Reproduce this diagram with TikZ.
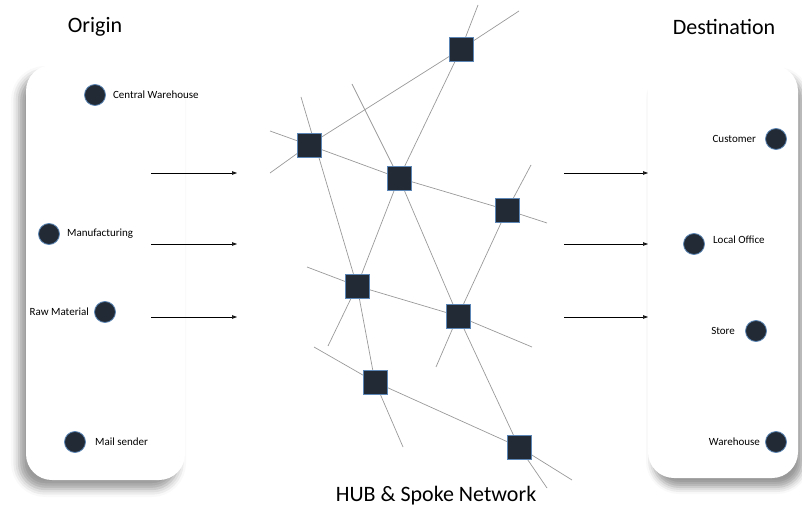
\documentclass[tikz,border=0pt]{standalone}
\usepackage{fontspec}
\setmainfont{Carlito}
\usetikzlibrary{positioning,arrows.meta,shadows.blur,backgrounds}
\definecolor{hubfill}{HTML}{222A35}
\definecolor{hubedge}{HTML}{5B86B5}

\begin{document}
\begin{tikzpicture}[x=1pt, y=-1pt, hub/.style={draw=hubedge, fill=hubfill,
				line width=0.8pt, minimum size=24pt, inner sep=0pt},
				site/.style={circle, draw=hubedge, fill=hubfill, line width=0.8pt,
				minimum size=21pt, inner sep=0pt},
				lbl/.style={font=\fontsize{11}{13}\selectfont, inner sep=1pt},
				spoke/.style={draw=gray!80, line width=0.7pt},
				flow/.style={-{Triangle[length=5pt,width=3.5pt]}, line width=0.6pt},
				panel/.style={fill=white, rounded corners=26pt},
				ttl/.style={font=\fontsize{22}{26}\selectfont}]

			\useasboundingbox (0,0) rectangle (802,510);

			% panels
			\path[panel, blur shadow={shadow xshift=-7pt, shadow yshift=-9pt,
				shadow blur radius=8pt, shadow opacity=40}] (26,65) rectangle (185,480);
			\path[panel, blur shadow={shadow xshift=5pt, shadow yshift=-9pt,
				shadow blur radius=7pt, shadow opacity=40}] (648,65) rectangle (798,478);

			\node[ttl] (orig) at (95,27) {Origin};
			\node[ttl] (dest) at (724,27) {Destination};
			\node[ttl] (net) at (436,496) {HUB \& Spoke Network};

			% origin side
			\node[site] (cw) at (95,95) {}; \node[lbl,right=6pt of cw] (cwl)
			{Central Warehouse}; \node[site] (mf) at (49,234) {};
			\node[lbl,right=6pt of mf] (mfl) {Manufacturing}; \node[site] (rm)
			at (105,312) {}; \node[lbl,left=4pt of rm] (rml) {Raw Material};
			\node[site] (ms) at (75,442) {}; \node[lbl,right=8pt of ms] (msl)
			{Mail sender};

			% destination side
			\node[site] (cu) at (776,139) {}; \node[lbl,left=8pt of cu] (cul)
			{Customer}; \node[site] (lo) at (694,244) {}; \node[lbl,right=7pt of
			lo,yshift=4pt] (lol) {Local Office}; \node[site] (st) at (756,331)
			{}; \node[lbl,left=9pt of st] (stl) {Store}; \node[site] (wh) at
			(776,442) {}; \node[lbl,left=4pt of wh] (whl) {Warehouse};

			% flows
			\coordinate (in1) at (151,173); \coordinate (in1e) at (237,173);
			\coordinate (in2) at (151,244); \coordinate (in2e) at (237,244);
			\coordinate (in3) at (151,317); \coordinate (in3e) at (237,317);
			\coordinate (out1) at (564,173); \coordinate (out1e) at (648,173);
			\coordinate (out2) at (564,244); \coordinate (out2e) at (648,244);
			\coordinate (out3) at (564,317); \coordinate (out3e) at (648,317);
			\draw[flow] (in1) -- (in1e); \draw[flow] (in2) -- (in2e);
			\draw[flow] (in3) -- (in3e); \draw[flow] (out1) -- (out1e);
			\draw[flow] (out2) -- (out2e); \draw[flow] (out3) -- (out3e);

			% hubs
			\node[hub] (h1) at (461,49) {}; \node[hub] (h2) at (309,145) {};
			\node[hub] (h3) at (399,178) {}; \node[hub] (h4) at (507,210) {};
			\node[hub] (h5) at (357,286) {}; \node[hub] (h6) at (458,316) {};
			\node[hub] (h7) at (375,382) {}; \node[hub] (h8) at (519,447) {};

			\begin{pgfonlayer}{background}
			\coordinate (a1) at (270,131); \coordinate (b1) at (547,223);
			\coordinate (a2) at (270,173); \coordinate (b2) at (519,11);
			\coordinate (a3) at (301,97); \coordinate (b3) at (403,447);
			\coordinate (a4) at (352,84); \coordinate (b4) at (547,488);
			\coordinate (a5) at (314,347); \coordinate (b5) at (572,480);
			\coordinate (a6) at (307,267); \coordinate (b6) at (532,347);
			\coordinate (a7) at (478,5); \coordinate (b7) at (328,346);
			\coordinate (a8) at (531,165); \coordinate (b8) at (436,367);
			\draw[spoke] (a1) -- (h2.center) -- (h3.center) -- (h4.center) -- (b1);
			\draw[spoke] (a2) -- (h2.center) -- (h1.center) -- (b2);
			\draw[spoke] (a3) -- (h5.center) -- (h7.center) -- (b3);
			\draw[spoke] (a4) -- (h3.center) -- (h6.center) -- (h8.center) -- (b4);
			\draw[spoke] (a5) -- (h7.center) -- (h8.center) -- (b5);
			\draw[spoke] (a6) -- (h5.center) -- (h6.center) -- (b6);
			\draw[spoke] (a7) -- (h1.center) -- (h3.center) -- (h5.center) -- (b7);
			\draw[spoke] (a8) -- (h4.center) -- (h6.center) -- (b8);
			\end{pgfonlayer}
		\end{tikzpicture}
\end{document}
